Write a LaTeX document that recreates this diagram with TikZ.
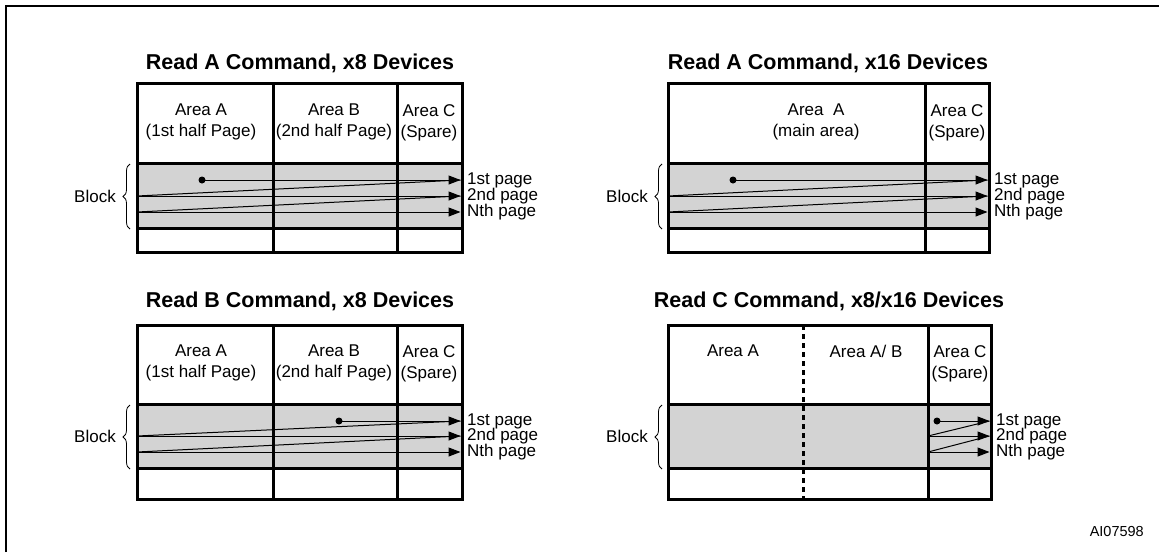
\documentclass[tikz,border=0pt]{standalone}
\usepackage{fontspec}
\setmainfont{Liberation Sans}
\usetikzlibrary{arrows.meta,decorations.pathreplacing}
\definecolor{blockgray}{RGB}{211,211,211}

\begin{document}
\begin{tikzpicture}[x=1pt,y=-1pt,
    boxline/.style={line width=3pt},
    halfline/.style={line width=3pt,dash pattern=on 5pt off 4pt},
    title/.style={font=\fontsize{21.5}{25}\selectfont\bfseries,anchor=base,inner sep=0pt},
    area/.style={font=\fontsize{17}{21}\selectfont,align=center,anchor=north,inner sep=0pt},
    lbl/.style={font=\fontsize{17}{21}\selectfont,inner sep=0pt},
    pg/.style={line width=1pt,-{Triangle[length=12pt,width=9pt]}},
    back/.style={line width=1pt},
    dot/.style={circle,fill=black,inner sep=0pt,minimum size=7pt},
    blockbrace/.style={decorate,decoration={brace,amplitude=7pt},line width=0.8pt}]
  \useasboundingbox (0,0) rectangle (1159,552);
  \draw[line width=2pt] (6,552) -- (6,6) -- (1159,6);

  % Read A, x8
  \node[title] (tA8) at (300,69) {Read A Command, x8 Devices};
  \fill[blockgray] (137,163) rectangle (462,228);
  \node[area] (a8A) at (201,104) {Area A\\(1st half Page)};
  \node[area] (a8B) at (334,104) {Area B\\(2nd half Page)};
  \node[area] (a8C) at (429,104) {Area C\\(Spare)};
  \node[dot] (s8) at (202,180) {};
  \coordinate (l8b) at (137,196);
  \coordinate (l8c) at (137,212);
  \coordinate (r8a) at (460.5,180);
  \coordinate (r8b) at (460.5,196);
  \coordinate (r8c) at (460.5,212);
  \draw[pg] (s8.center) -- (r8a);
  \draw[back] (l8b) -- (r8a);
  \draw[pg] (l8b) -- (r8b);
  \draw[back] (l8c) -- (r8b);
  \draw[pg] (l8c) -- (r8c);
  \draw[boxline] (137,83) rectangle (462,252);
  \draw[boxline] (137,163) -- (462,163) (137,228) -- (462,228)
    (273,83) -- (273,252) (397,83) -- (397,252);
  \node[lbl,anchor=west] (p8a) at (467,180) {1st page};
  \node[lbl,anchor=west] (p8b) at (467,196) {2nd page};
  \node[lbl,anchor=west] (p8c) at (467,212) {Nth page};
  \draw[blockbrace] (130,229) -- (130,164);
  \node[lbl,anchor=east] (b8) at (116,196) {Block};

  % Read A, x16
  \node[title] (tA16) at (828,69) {Read A Command, x16 Devices};
  \fill[blockgray] (668,163) rectangle (989,228);
  \node[area] (a16A) at (816,104) {Area\ \ A\\(main area)};
  \node[area] (a16C) at (957,104) {Area C\\(Spare)};
  \node[dot] (s16) at (733,180) {};
  \coordinate (l16b) at (668,196);
  \coordinate (l16c) at (668,212);
  \coordinate (r16a) at (987.5,180);
  \coordinate (r16b) at (987.5,196);
  \coordinate (r16c) at (987.5,212);
  \draw[pg] (s16.center) -- (r16a);
  \draw[back] (l16b) -- (r16a);
  \draw[pg] (l16b) -- (r16b);
  \draw[back] (l16c) -- (r16b);
  \draw[pg] (l16c) -- (r16c);
  \draw[boxline] (668,83) rectangle (989,252);
  \draw[boxline] (668,163) -- (989,163) (668,228) -- (989,228)
    (925,83) -- (925,252);
  \node[lbl,anchor=west] (p16a) at (994,180) {1st page};
  \node[lbl,anchor=west] (p16b) at (994,196) {2nd page};
  \node[lbl,anchor=west] (p16c) at (994,212) {Nth page};
  \draw[blockbrace] (662,229) -- (662,164);
  \node[lbl,anchor=east] (b16) at (648,196) {Block};

  % Read B, x8
  \node[title] (tB8) at (300,307) {Read B Command, x8 Devices};
  \fill[blockgray] (137,404) rectangle (462,468);
  \node[area] (b8A) at (201,345) {Area A\\(1st half Page)};
  \node[area] (b8B) at (334,345) {Area B\\(2nd half Page)};
  \node[area] (b8C) at (429,345) {Area C\\(Spare)};
  \node[dot] (sB) at (339,421) {};
  \coordinate (lBb) at (137,436);
  \coordinate (lBc) at (137,452);
  \coordinate (rBa) at (460.5,421);
  \coordinate (rBb) at (460.5,436);
  \coordinate (rBc) at (460.5,452);
  \draw[pg] (sB.center) -- (rBa);
  \draw[back] (lBb) -- (rBa);
  \draw[pg] (lBb) -- (rBb);
  \draw[back] (lBc) -- (rBb);
  \draw[pg] (lBc) -- (rBc);
  \draw[boxline] (137,325) rectangle (462,499);
  \draw[boxline] (137,404) -- (462,404) (137,468) -- (462,468)
    (273,325) -- (273,499) (397,325) -- (397,499);
  \node[lbl,anchor=west] (pBa) at (467,421) {1st page};
  \node[lbl,anchor=west] (pBb) at (467,436) {2nd page};
  \node[lbl,anchor=west] (pBc) at (467,452) {Nth page};
  \draw[blockbrace] (130,469) -- (130,405);
  \node[lbl,anchor=east] (bB) at (116,436) {Block};

  % Read C, x8/x16
  \node[title] (tC) at (829,307) {Read C Command, x8/x16 Devices};
  \fill[blockgray] (668,404) rectangle (991,468);
  \node[area] (cA) at (733,345) {Area A};
  \node[area] (cAB) at (866,345) {Area A/ B};
  \node[area] (cC) at (960,345) {Area C\\(Spare)};
  \node[dot] (sC) at (937,421) {};
  \coordinate (lCb) at (928,436);
  \coordinate (lCc) at (928,452);
  \coordinate (rCa) at (989.5,421);
  \coordinate (rCb) at (989.5,436);
  \coordinate (rCc) at (989.5,452);
  \draw[pg] (sC.center) -- (rCa);
  \draw[back] (lCb) -- (rCa);
  \draw[pg] (lCb) -- (rCb);
  \draw[back] (lCc) -- (rCb);
  \draw[pg] (lCc) -- (rCc);
  \draw[halfline] (803,325) -- (803,499);
  \draw[boxline] (668,325) rectangle (991,499);
  \draw[boxline] (668,404) -- (991,404) (668,468) -- (991,468)
    (928,325) -- (928,499);
  \node[lbl,anchor=west] (pCa) at (996,421) {1st page};
  \node[lbl,anchor=west] (pCb) at (996,436) {2nd page};
  \node[lbl,anchor=west] (pCc) at (996,452) {Nth page};
  \draw[blockbrace] (662,469) -- (662,405);
  \node[lbl,anchor=east] (bC) at (648,436) {Block};

  \node[font=\fontsize{14.5}{17}\selectfont,anchor=east,inner sep=0pt] (ref) at (1144,531) {AI07598};
\end{tikzpicture}
\end{document}
